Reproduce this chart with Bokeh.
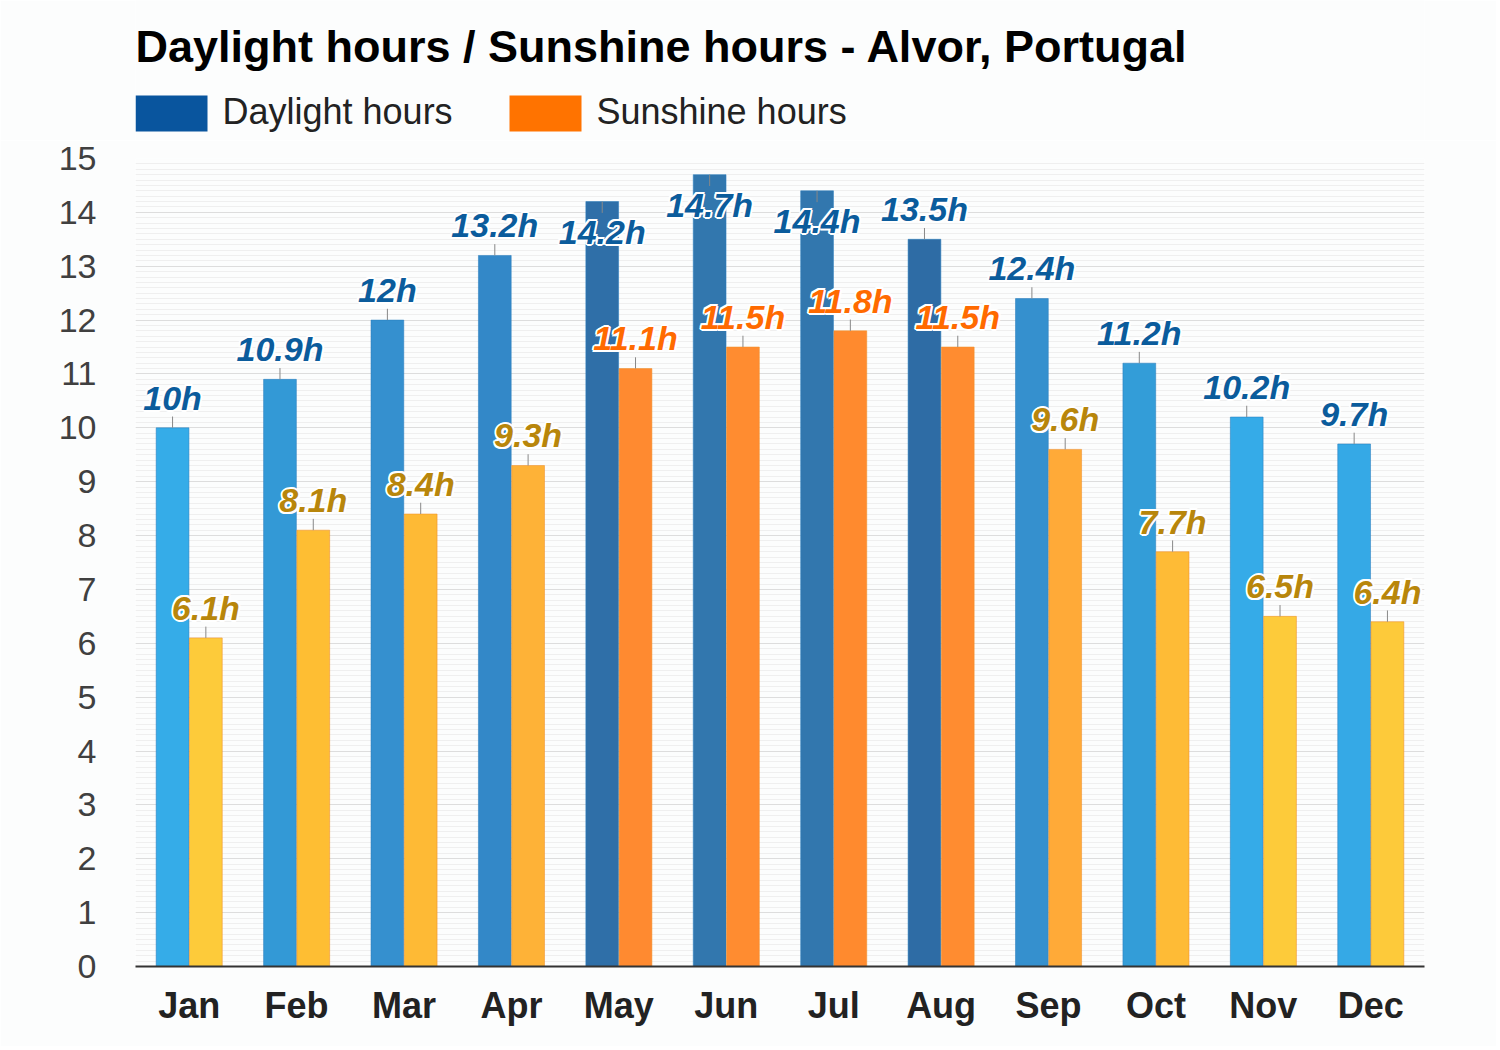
from bokeh.plotting import figure
from bokeh.layouts import column
from bokeh.models import (ColumnDataSource, FactorRange, Range1d, SingleIntervalTicker)
from bokeh.core.properties import value
from bokeh.transform import dodge
from bokeh.embed import file_html
from bokeh.resources import INLINE

months = ["Jan", "Feb", "Mar", "Apr", "May", "Jun", "Jul", "Aug", "Sep", "Oct", "Nov", "Dec"]
daylight = [10, 10.9, 12, 13.2, 14.2, 14.7, 14.4, 13.5, 12.4, 11.2, 10.2, 9.7]
sunshine = [6.1, 8.1, 8.4, 9.3, 11.1, 11.5, 11.8, 11.5, 9.6, 7.7, 6.5, 6.4]

series_names = ["Daylight hours", "Sunshine hours"]
series_legend_colors = ["#09559E", "#FF7300"]
title_text = "Daylight hours / Sunshine hours - Alvor, Portugal"

daylight_colors = ["#35ACE8", "#3399D6", "#3590CF", "#3388C8", "#2F6FA8", "#3277AE",
                   "#3277AE", "#2E6CA5", "#3590CE", "#339DD8", "#35ABE8", "#35A9E6"]
sunshine_colors = ["#FDCB3A", "#FEBE33", "#FEBA35", "#FEB237", "#FF8A30", "#FF8C30",
                   "#FF8A2E", "#FF8C30", "#FFAA38", "#FEBB36", "#FDCB3A", "#FDCA3A"]
sunshine_label_colors = ["#B8860B", "#B8860B", "#B8860B", "#B8860B", "#FF6A00", "#FF6A00",
                         "#FF6A00", "#FF6A00", "#B8860B", "#B8860B", "#B8860B", "#B8860B"]
daylight_label_color = "#0B5C9C"

Y_MAX = 15
LABEL_GAP = 0.56
LEADER = 0.21


def fmt(v):
    return f"{v:g}h"


def label_pos(v):
    # label above the bar unless it would run past the top of the plot
    if v + LABEL_GAP + 0.3 > Y_MAX:
        return v - LABEL_GAP, v - LEADER
    return v + LABEL_GAP, v + LEADER


d_lab = [label_pos(v) for v in daylight]
s_lab = [label_pos(v) for v in sunshine]

src = ColumnDataSource(dict(
    month=months,
    daylight=daylight,
    sunshine=sunshine,
    dcol=daylight_colors,
    scol=sunshine_colors,
    slabcol=sunshine_label_colors,
    dtext=[fmt(v) for v in daylight],
    stext=[fmt(v) for v in sunshine],
    dly=[a for a, b in d_lab],
    dle=[b for a, b in d_lab],
    sly=[a for a, b in s_lab],
    sle=[b for a, b in s_lab],
))

BG = "#fcfdfd"
FONT = "Liberation Sans"
W_TOTAL = 1496
H_TOTAL = 1046
HEAD_H = 140
FRAME_L, FRAME_R, FRAME_T, FRAME_B = 135, 1424, 158, 966

# ---------------- header: title + legend (pixel-like coordinates) ----------------
head = figure(width=W_TOTAL, height=HEAD_H, title=None,
              x_range=Range1d(FRAME_L, FRAME_R), y_range=Range1d(HEAD_H, 0),
              output_backend="svg", toolbar_location=None,
              x_axis_location=None, y_axis_location=None,
              min_border_left=FRAME_L, min_border_right=W_TOTAL - FRAME_R,
              min_border_top=0, min_border_bottom=0,
              background_fill_color=BG, border_fill_color=BG, outline_line_color=None)
head.grid.visible = False

head.text(x=[FRAME_L], y=[46], text=[title_text], text_font=value(FONT), text_font_size="45px",
          text_font_style="bold", text_color="#000000", text_baseline="middle")

leg_x = [135, 509]
head.quad(left=leg_x, right=[x + 72 for x in leg_x], top=[95, 95], bottom=[131, 131],
          fill_color=series_legend_colors, line_color=None)
head.text(x=[x + 87 for x in leg_x], y=[111, 111], text=series_names, text_font=value(FONT),
          text_font_size="36px", text_color="#222222", text_baseline="middle")

# ---------------- main chart ----------------
main_h = H_TOTAL - HEAD_H
p = figure(width=W_TOTAL, height=main_h, x_range=FactorRange(*months), y_range=Range1d(0, Y_MAX),
           output_backend="svg", toolbar_location=None,
           min_border_left=FRAME_L, min_border_right=W_TOTAL - FRAME_R,
           min_border_top=FRAME_T - HEAD_H, min_border_bottom=H_TOTAL - FRAME_B,
           background_fill_color=BG, border_fill_color=BG, outline_line_color=None)

OFF = 0.155
W = 0.305
p.vbar(x=dodge("month", -OFF, range=p.x_range), top="daylight", width=W, source=src,
       fill_color="dcol", line_color="#2a7dbd", line_alpha=0.55, line_width=1)
p.vbar(x=dodge("month", OFF, range=p.x_range), top="sunshine", width=W, source=src,
       fill_color="scol", line_color="#f0902a", line_alpha=0.55, line_width=1)

# leader lines
p.segment(x0=dodge("month", -OFF, range=p.x_range), y0="daylight",
          x1=dodge("month", -OFF, range=p.x_range), y1="dle", source=src,
          line_color="#888888", line_width=1)
p.segment(x0=dodge("month", OFF, range=p.x_range), y0="sunshine",
          x1=dodge("month", OFF, range=p.x_range), y1="sle", source=src,
          line_color="#888888", line_width=1)

common = dict(text_font=value(FONT), text_font_size="34px", text_font_style="bold italic",
              text_align="center", text_baseline="middle")
halo = [(2, 0), (-2, 0), (0, 2), (0, -2), (1.5, 1.5), (-1.5, 1.5), (1.5, -1.5), (-1.5, -1.5)]
for dx, dy in halo:
    p.text(x=dodge("month", -OFF, range=p.x_range), y="dly", text="dtext", source=src,
           text_color="white", x_offset=dx, y_offset=dy, **common)
    p.text(x=dodge("month", OFF, range=p.x_range), y="sly", text="stext", source=src,
           text_color="white", x_offset=dx, y_offset=dy, **common)
p.text(x=dodge("month", -OFF, range=p.x_range), y="dly", text="dtext", source=src,
       text_color=daylight_label_color, **common)
p.text(x=dodge("month", OFF, range=p.x_range), y="sly", text="stext", source=src,
       text_color="slabcol", **common)

# axes
p.yaxis.ticker = SingleIntervalTicker(interval=1, num_minor_ticks=10)
p.yaxis.axis_line_color = None
p.yaxis.major_tick_line_color = None
p.yaxis.minor_tick_line_color = None
p.yaxis.major_label_standoff = 33
p.yaxis.major_label_text_font = FONT
p.yaxis.major_label_text_font_size = "34px"
p.yaxis.major_label_text_color = "#404040"

p.xaxis.axis_line_color = "#333333"
p.xaxis.axis_line_width = 2
p.xaxis.major_tick_line_color = None
p.xaxis.minor_tick_line_color = None
p.xaxis.major_label_standoff = 12
p.xaxis.major_label_text_font = FONT
p.xaxis.major_label_text_font_size = "36px"
p.xaxis.major_label_text_font_style = "bold"
p.xaxis.major_label_text_color = "#222222"

p.xgrid.grid_line_color = None
p.ygrid.grid_line_color = "#dddddd"
p.ygrid.minor_grid_line_color = "#efefef"

layout = column(head, p, spacing=0)
open("out.html", "w").write(file_html(layout, INLINE))
